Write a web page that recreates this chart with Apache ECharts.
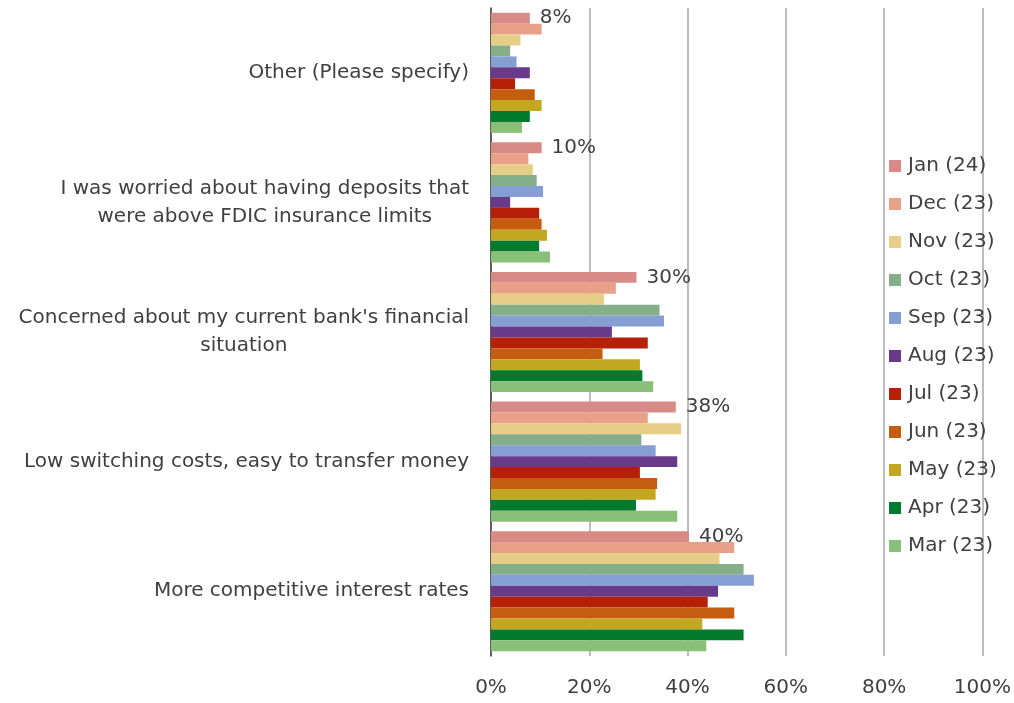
<!DOCTYPE html>
<html>
<head>
<meta charset="utf-8">
<script src="https://cdn.jsdelivr.net/npm/echarts@6/dist/echarts.min.js"></script>
<style>html,body{margin:0;padding:0;background:#fff;}#c{width:1014px;height:703px;}</style>
</head>
<body>
<div id="c"></div>
<script>
const categories = [
  "Other (Please specify)",
  "I was worried about having deposits that\nwere above FDIC insurance limits",
  "Concerned about my current bank's financial\nsituation",
  "Low switching costs, easy to transfer money",
  "More competitive interest rates"
];
const seriesNames = ["Jan (24)","Dec (23)","Nov (23)","Oct (23)","Sep (23)","Aug (23)","Jul (23)","Jun (23)","May (23)","Apr (23)","Mar (23)"];
const jan24 = [7.9, 10.3, 29.6, 37.6, 40.3];
const dec23 = [10.3, 7.6, 25.4, 31.9, 49.5];
const nov23 = [6.0, 8.5, 23.0, 38.7, 46.5];
const oct23 = [3.9, 9.3, 34.3, 30.6, 51.4];
const sep23 = [5.2, 10.6, 35.2, 33.5, 53.5];
const aug23 = [7.9, 3.9, 24.6, 37.9, 46.2];
const jul23 = [4.9, 9.8, 31.9, 30.3, 44.1];
const jun23 = [8.9, 10.3, 22.7, 33.8, 49.5];
const may23 = [10.3, 11.4, 30.3, 33.5, 43.0];
const apr23 = [7.9, 9.8, 30.8, 29.5, 51.4];
const mar23 = [6.3, 12.0, 33.0, 37.9, 43.8];
const seriesValues = [jan24, dec23, nov23, oct23, sep23, aug23, jul23, jun23, may23, apr23, mar23];
const colors = ["#D88A87","#E8A088","#E6CE88","#85AF88","#859FD4","#6A3A8A","#B52007","#C65C0E","#C4A720","#007A2C","#8ABF78"];
const xTicks = [0, 20, 40, 60, 80, 100];

const FONT = "DejaVu Sans";
const TXT = "#404040";

const chart = echarts.init(document.getElementById('c'));
const series = seriesNames.map((name, i) => ({
  name: name,
  type: 'bar',
  data: seriesValues[i],
  barGap: '0%',
  barCategoryGap: '7.3%',
  itemStyle: { color: colors[i] },
  label: i === 0 ? {
    show: true,
    position: 'right',
    distance: 10,
    formatter: p => Math.round(p.value) + '%',
    fontFamily: FONT,
    fontSize: 20,
    color: TXT
  } : { show: false },
  z: 3
}));

chart.setOption({
  animation: false,
  backgroundColor: '#fff',
  color: colors,
  grid: { left: 491, right: 30, top: 8, bottom: 47, containLabel: false },
  xAxis: {
    type: 'value',
    min: xTicks[0],
    max: xTicks[xTicks.length - 1],
    interval: 20,
    axisLine: { show: false },
    axisTick: { show: false },
    splitLine: { show: true, lineStyle: { color: '#A6A6A6', width: 1.5 } },
    axisLabel: {
      formatter: '{value}%',
      fontFamily: FONT,
      fontSize: 20,
      color: TXT,
      margin: 22
    }
  },
  yAxis: {
    type: 'category',
    data: categories,
    inverse: true,
    axisLine: { show: true, lineStyle: { color: '#404040', width: 1.5 } },
    axisTick: { show: false },
    axisLabel: {
      margin: 22,
      formatter: v => v.split('\n').map(l => '{c|' + l + '}').join('\n'),
      rich: {
        c: { align: 'center', fontFamily: FONT, fontSize: 20, color: TXT, lineHeight: 28 }
      }
    }
  },
  legend: {
    orient: 'vertical',
    left: 884,
    top: 151,
    itemWidth: 12,
    itemHeight: 12,
    itemGap: 18,
    icon: 'rect',
    textStyle: { fontFamily: FONT, fontSize: 20, color: TXT, lineHeight: 20, padding: [0, 0, 0, 2] },
    data: seriesNames
  },
  series: series
});
</script>
</body>
</html>
